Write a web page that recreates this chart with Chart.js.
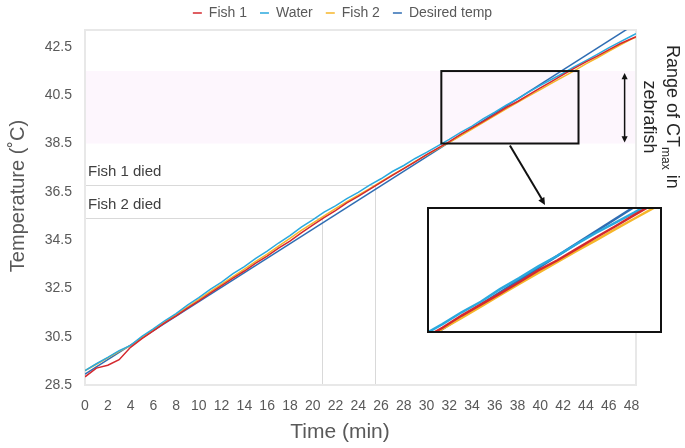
<!DOCTYPE html>
<html>
<head>
<meta charset="utf-8">
<script src="https://cdn.jsdelivr.net/npm/chart.js@4.4.0/dist/chart.umd.min.js"></script>
<style>
    html, body { margin: 0; padding: 0; background: #fff; }
    #wrap { position: relative; width: 685px; height: 448px; }
    #inset { position: absolute; left: 427px; top: 207px; width: 231px; height: 122px; border: 2px solid #111; background: #fff; }
    #inset canvas { display: block; }
</style>
</head>
<body>
<div id="wrap">
    <canvas id="myChart" width="685" height="448"></canvas>
    <div id="inset"><canvas id="insetChart" width="231" height="122"></canvas></div>
</div>
<script>
// time in minutes
const times = [0, 1, 2, 3, 4, 5, 6, 7, 8, 9, 10, 11, 12, 13, 14, 15, 16, 17, 18, 19, 20, 21, 22, 23, 24,
    25, 26, 27, 28, 29, 30, 31, 32, 33, 34, 35, 36, 37, 38, 39, 40, 41, 42, 43, 44, 45, 46, 47, 48, 48.4];
const fish1 = [28.84, 29.20, 29.32, 29.55, 30.06, 30.42, 30.74, 31.07, 31.36, 31.68, 31.98, 32.30, 32.61, 32.93, 33.22,
    33.55, 33.84, 34.17, 34.46, 34.80, 35.12, 35.43, 35.72, 36.04, 36.31, 36.60, 36.89, 37.18, 37.46, 37.74,
    38.04, 38.31, 38.58, 38.88, 39.15, 39.42, 39.70, 39.99, 40.24, 40.52, 40.80, 41.07, 41.35, 41.62, 41.88,
    42.12, 42.38, 42.63, 42.84, 42.92];
const water = [29.10, 29.38, 29.64, 29.92, 30.14, 30.51, 30.82, 31.16, 31.46, 31.81, 32.12, 32.46, 32.76, 33.11, 33.40,
    33.74, 34.04, 34.38, 34.69, 35.04, 35.34, 35.66, 35.92, 36.22, 36.48, 36.78, 37.04, 37.34, 37.59, 37.88,
    38.13, 38.40, 38.67, 38.96, 39.22, 39.53, 39.80, 40.09, 40.35, 40.64, 40.91, 41.16, 41.41, 41.68, 41.93,
    42.19, 42.46, 42.71, 42.95, 43.05];
const fish2 = [29.10, 29.36, 29.62, 29.89, 30.13, 30.47, 30.79, 31.10, 31.41, 31.73, 32.05, 32.37, 32.68, 32.99, 33.30,
    33.62, 33.92, 34.25, 34.57, 34.90, 35.20, 35.50, 35.80, 36.09, 36.36, 36.63, 36.92, 37.20, 37.47, 37.76,
    38.02, 38.29, 38.55, 38.82, 39.10, 39.38, 39.66, 39.93, 40.20, 40.47, 40.73, 41.00, 41.26, 41.52, 41.80,
    42.05, 42.32, 42.58, 42.82, 42.90];
const desiredTimes = [0, 48.4];
const desiredTemp = [28.95, 43.47];

const xTicks = [0, 2, 4, 6, 8, 10, 12, 14, 16, 18, 20, 22, 24, 26, 28, 30, 32, 34, 36, 38, 40, 42, 44, 46, 48];
const yTicks = [28.5, 30.5, 32.5, 34.5, 36.5, 38.5, 40.5, 42.5];

const ctmaxRange = [38.5, 41.5];
const fish1Died = [25.5, 36.77];
const fish2Died = [20.8, 35.4];
const zoomTime = [31.3, 43.35];
const zoomTemp = [38.5, 41.5];
const rangeArrowTime = 47.4;

const colors = ['#d4282e', '#2aa9de', '#f6b62a', '#2f6db3'];
const FONT = "'Liberation Sans', Arial, sans-serif";

Chart.defaults.font.family = FONT;
Chart.defaults.color = '#595959';

function toPoints(xs, ys) {
    return xs.map((t, i) => ({ x: t, y: ys[i] }));
}

function makeDatasets(width) {
    const series = [
        { label: 'Fish 1', data: toPoints(times, fish1) },
        { label: 'Water', data: toPoints(times, water) },
        { label: 'Fish 2', data: toPoints(times, fish2) },
        { label: 'Desired temp', data: toPoints(desiredTimes, desiredTemp) },
    ];
    return series.map((s, i) => ({
        ...s,
        borderColor: colors[i],
        backgroundColor: colors[i],
        borderWidth: width,
        pointRadius: 0,
        tension: 0,
        yAxisID: 'y',
    }));
}

function arrowHead(ctx, x0, y0, x1, y1, size) {
    const ang = Math.atan2(y1 - y0, x1 - x0);
    ctx.beginPath();
    ctx.moveTo(x1, y1);
    ctx.lineTo(x1 - size * Math.cos(ang - 0.45), y1 - size * Math.sin(ang - 0.45));
    ctx.lineTo(x1 - size * Math.cos(ang + 0.45), y1 - size * Math.sin(ang + 0.45));
    ctx.closePath();
    ctx.fill();
}

// keeps the legend short so the plot starts right under it
const legendFit = {
    id: 'legendFit',
    beforeLayout(chart) {
        const legend = chart.legend;
        if (legend && !legend._fitPatched) {
            const fit = legend.fit;
            legend.fit = function () {
                fit.call(this);
                this.height = 30;
            };
            legend._fitPatched = true;
        }
    },
    afterLayout(chart) {
        if (chart.legend) {
            chart.legend.top -= 7;
            chart.legend.bottom -= 7;
        }
    }
};

const annotations = {
    id: 'annotations',
    beforeDatasetsDraw(chart) {
        const { ctx, chartArea: a, scales: { x, y } } = chart;
        ctx.save();
        // range of CTmax band
        const bandTop = y.getPixelForValue(ctmaxRange[1]);
        const bandBottom = y.getPixelForValue(ctmaxRange[0]);
        ctx.fillStyle = '#fdf6fd';
        ctx.fillRect(a.left, bandTop, a.right - a.left, bandBottom - bandTop);
        // death markers
        ctx.strokeStyle = '#d9d9d9';
        ctx.lineWidth = 1;
        ctx.fillStyle = '#404040';
        ctx.font = '15px ' + FONT;
        ctx.textBaseline = 'middle';
        [[fish1Died, 'Fish 1 died'], [fish2Died, 'Fish 2 died']].forEach(([d, text]) => {
            const px = Math.round(x.getPixelForValue(d[0])) + 0.5;
            const py = Math.round(y.getPixelForValue(d[1])) + 0.5;
            ctx.beginPath();
            ctx.moveTo(a.left, py);
            ctx.lineTo(px, py);
            ctx.lineTo(px, a.bottom);
            ctx.stroke();
            ctx.fillText(text, a.left + 3, py - 14);
        });
        // plot frame
        ctx.strokeStyle = '#e8e8e8';
        ctx.lineWidth = 2;
        ctx.strokeRect(a.left, a.top, a.right - a.left, a.bottom - a.top);
        ctx.restore();
    },
    afterDraw(chart) {
        const { ctx, scales: { x, y } } = chart;
        ctx.save();
        // zoom window
        const zx0 = x.getPixelForValue(zoomTime[0]), zx1 = x.getPixelForValue(zoomTime[1]);
        const zy0 = y.getPixelForValue(zoomTemp[1]), zy1 = y.getPixelForValue(zoomTemp[0]);
        ctx.strokeStyle = '#111';
        ctx.fillStyle = '#111';
        ctx.lineWidth = 2;
        ctx.strokeRect(zx0, zy0, zx1 - zx0, zy1 - zy0);
        // pointer to inset
        const sx = x.getPixelForValue((zoomTime[0] + zoomTime[1]) / 2), sy = zy1 + 2;
        const ex = 545, ey = 205;
        ctx.beginPath();
        ctx.moveTo(sx, sy);
        ctx.lineTo(ex - 2, ey - 4);
        ctx.stroke();
        arrowHead(ctx, sx, sy, ex, ey, 8);
        // double arrow for CTmax range
        const ax = x.getPixelForValue(rangeArrowTime);
        const ay0 = y.getPixelForValue(ctmaxRange[1]) + 2, ay1 = y.getPixelForValue(ctmaxRange[0]) - 1;
        ctx.lineWidth = 1.5;
        ctx.beginPath();
        ctx.moveTo(ax, ay0 + 5);
        ctx.lineTo(ax, ay1 - 5);
        ctx.stroke();
        arrowHead(ctx, ax, ay1, ax, ay0, 7);
        arrowHead(ctx, ax, ay0, ax, ay1, 7);

        // side label
        ctx.fillStyle = '#262626';
        ctx.textBaseline = 'middle';
        ctx.textAlign = 'left';
        ctx.save();
        ctx.translate(672, 45);
        ctx.rotate(Math.PI / 2);
        ctx.font = '18px ' + FONT;
        ctx.fillText('Range of CT', 0, 0);
        let w = ctx.measureText('Range of CT').width;
        ctx.font = '12px ' + FONT;
        ctx.fillText('max', w, 7);
        w += ctx.measureText('max').width;
        ctx.font = '18px ' + FONT;
        ctx.fillText(' in', w, 0);
        ctx.restore();
        ctx.save();
        ctx.translate(649, 117);
        ctx.rotate(Math.PI / 2);
        ctx.font = '18px ' + FONT;
        ctx.textAlign = 'center';
        ctx.fillText('zebrafish', 0, 0);
        ctx.restore();

        // axis titles
        ctx.fillStyle = '#595959';
        ctx.textAlign = 'center';
        ctx.font = '21px ' + FONT;
        ctx.fillText('Time (min)', 340, 432);
        ctx.save();
        ctx.translate(18, 196);
        ctx.rotate(-Math.PI / 2);
        ctx.font = '20px ' + FONT;
        ctx.fillText('Temperature (\u02DAC)', 0, 0);
        ctx.restore();
        ctx.restore();
    }
};

function renderMainChart() {
    const ctx = document.getElementById('myChart');
    return new Chart(ctx, {
        type: 'line',
        data: { datasets: makeDatasets(1.5) },
        options: {
            responsive: false,
            animation: false,
            layout: { padding: 0 },
            plugins: {
                legend: {
                    position: 'top',
                    labels: {
                        usePointStyle: true,
                        pointStyle: 'line',
                        pointStyleWidth: 9,
                        padding: 13,
                        color: '#595959',
                        font: { size: 14 },
                    }
                },
                tooltip: { enabled: false },
            },
            scales: {
                x: {
                    type: 'linear',
                    min: 0,
                    max: 48.4,
                    afterBuildTicks: scale => { scale.ticks = xTicks.map(v => ({ value: v })); },
                    afterFit: scale => { scale.height = 63; },
                    grid: { display: false },
                    border: { display: false },
                    ticks: { autoSkip: false, maxRotation: 0, padding: 5, font: { size: 14 }, color: '#595959' },
                },
                y: {
                    min: 28.5,
                    max: 43.2,
                    afterBuildTicks: scale => { scale.ticks = yTicks.map(v => ({ value: v })); },
                    afterFit: scale => { scale.width = 85; },
                    grid: { display: false },
                    border: { display: false },
                    ticks: { padding: 5, font: { size: 14 }, color: '#595959', callback: v => v.toFixed(1) },
                },
                // empty strip on the right for the CTmax note
                side: {
                    position: 'right',
                    min: 0,
                    max: 1,
                    afterFit: scale => { scale.width = 49; },
                    grid: { display: false },
                    border: { display: false },
                    ticks: { display: false },
                }
            }
        },
        plugins: [legendFit, annotations]
    });
}

function renderInsetChart() {
    const ctx = document.getElementById('insetChart');
    return new Chart(ctx, {
        type: 'line',
        data: { datasets: makeDatasets(2.5) },
        options: {
            responsive: false,
            animation: false,
            layout: { padding: 0 },
            plugins: { legend: { display: false }, tooltip: { enabled: false } },
            scales: {
                x: { type: 'linear', min: zoomTime[0], max: zoomTime[1], display: false },
                y: { min: zoomTemp[0], max: zoomTemp[1], display: false },
            }
        }
    });
}

renderMainChart();
renderInsetChart();
</script>
</body>
</html>
